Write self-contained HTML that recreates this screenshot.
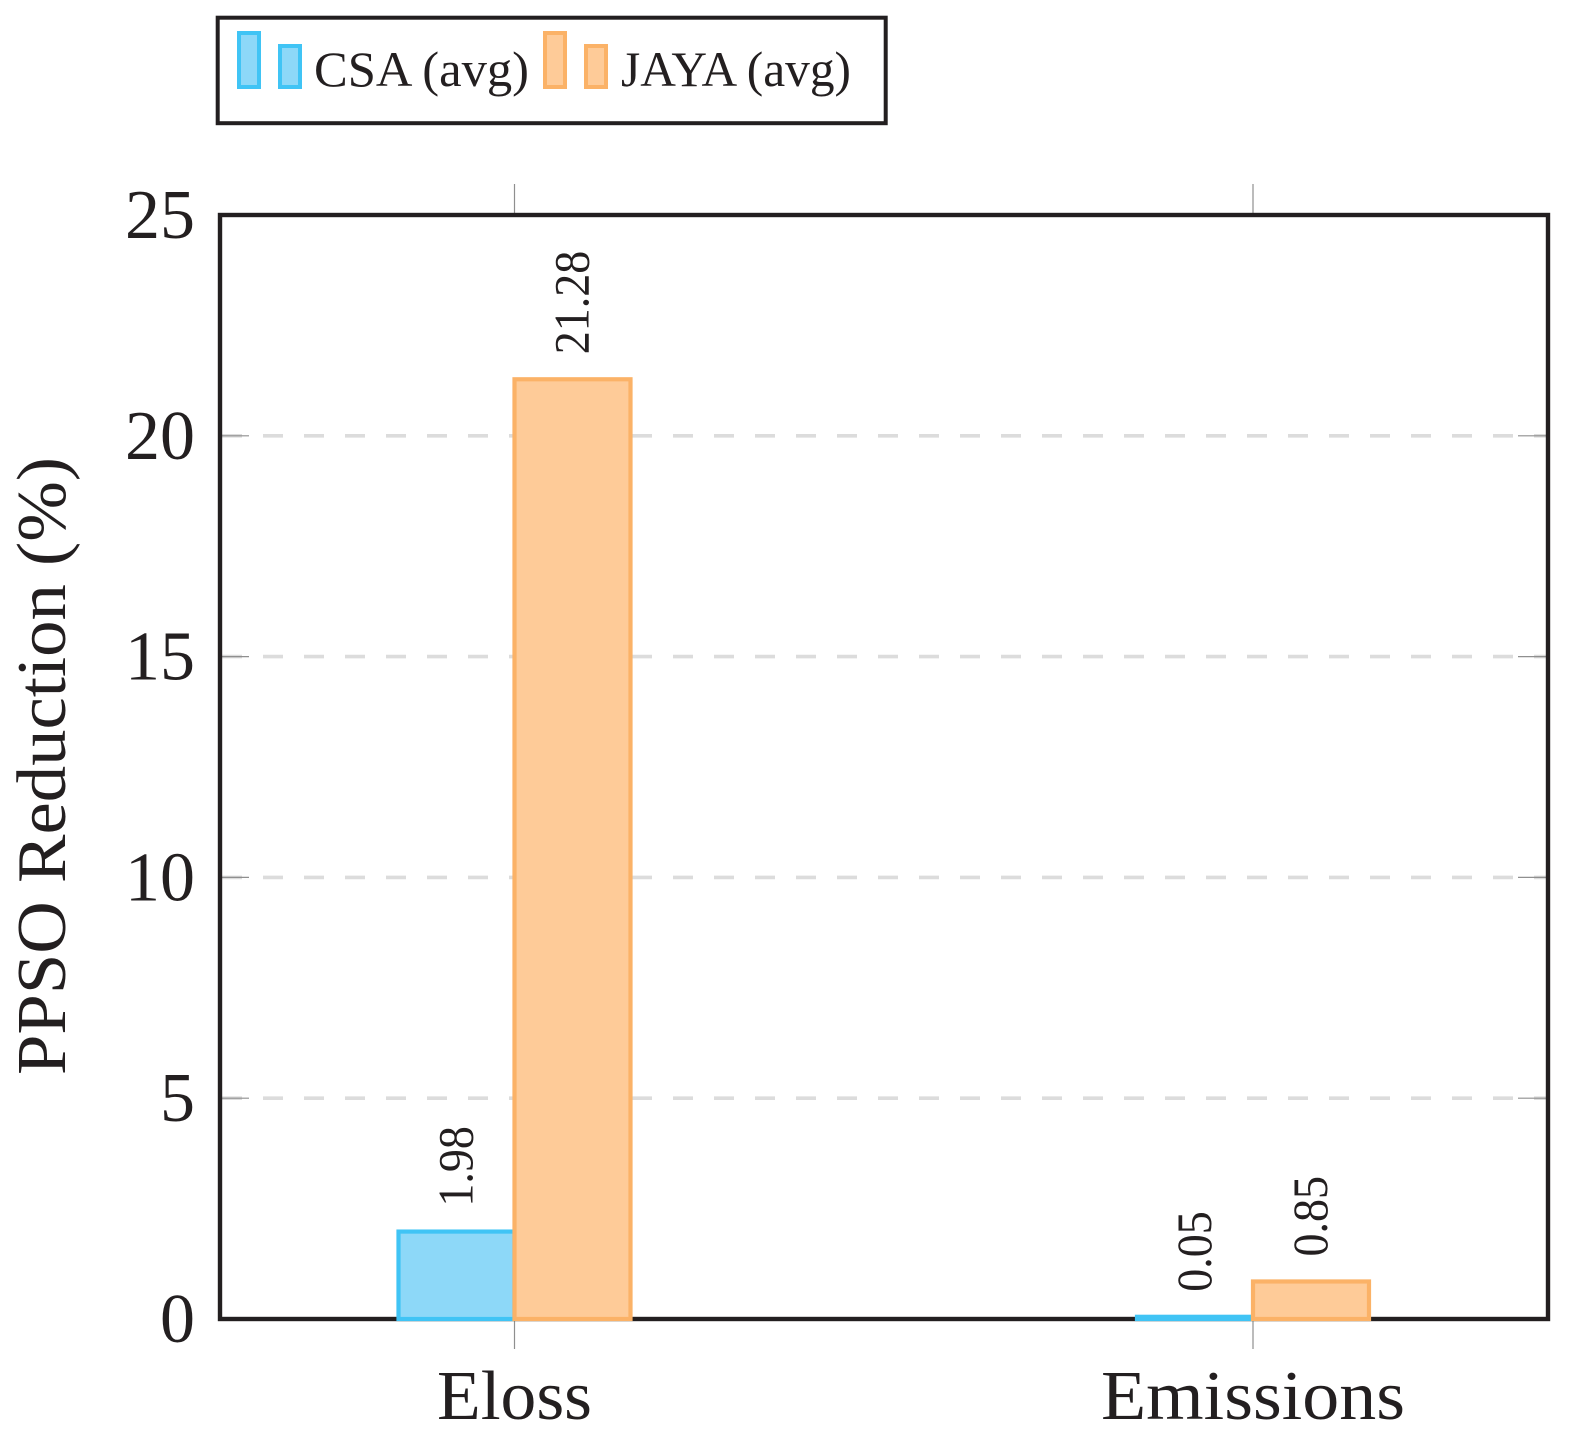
<!DOCTYPE html>
<html lang="en">
<head>
<meta charset="utf-8">
<title>PPSO Reduction Chart</title>
<style>
html,body{margin:0;padding:0;background:#fff;width:1571px;height:1436px;overflow:hidden}
svg{display:block}
text{font-family:"Liberation Serif",serif;fill:#231f20}
</style>
</head>
<body>
<svg id="chart" xmlns="http://www.w3.org/2000/svg" width="1571" height="1436" viewBox="0 0 1571 1436">
  <rect x="0" y="0" width="1571" height="1436" fill="#fff"/>
  <g>
    <rect x="217.7" y="17.7" width="668" height="105.5" fill="#fff" stroke="#231f20" stroke-width="4"/>
    <g>
      <rect x="239" y="33" width="20" height="54" fill="#8dd8f8" stroke="#40c4f5" stroke-width="4"/>
      <rect x="280" y="46" width="20" height="41" fill="#8dd8f8" stroke="#40c4f5" stroke-width="4"/>
      <text x="314" y="86" font-size="50" textLength="215" lengthAdjust="spacingAndGlyphs">CSA (avg)</text>
    </g>
    <g>
      <rect x="545" y="33" width="20" height="54" fill="#fecb98" stroke="#fbb267" stroke-width="4"/>
      <rect x="586" y="46" width="20" height="41" fill="#fecb98" stroke="#fbb267" stroke-width="4"/>
      <text x="621" y="86" font-size="50" textLength="230" lengthAdjust="spacingAndGlyphs">JAYA (avg)</text>
    </g>
  </g>
  <text transform="translate(65,1075) rotate(-90)" x="0" y="0" font-size="70" textLength="618" lengthAdjust="spacingAndGlyphs">PPSO Reduction (%)</text>
  <g id="plot"></g>
</svg>
<script>
const categories = ['Eloss', 'Emissions'];
const csaValues = [1.98, 0.05];
const jayaValues = [21.28, 0.85];
const valueLabelsCsa = ['1.98', '0.05'];
const valueLabelsJaya = ['21.28', '0.85'];
const yTicks = [0, 5, 10, 15, 20, 25];
const yDomain = [0, 25];

const frame = { left: 220, right: 1548, top: 215, bottom: 1319 };
const firstCategoryX = 514.5;
const categoryStep = 738.5;
const barWidth = 116;
const categoryLabelWidths = [155, 304];

const NS = 'http://www.w3.org/2000/svg';
const plot = document.getElementById('plot');

function yScale(v) {
  return frame.bottom - (v - yDomain[0]) / (yDomain[1] - yDomain[0]) * (frame.bottom - frame.top);
}
function xScale(i) {
  return firstCategoryX + i * categoryStep;
}
function make(tag, attrs, parent) {
  const el = document.createElementNS(NS, tag);
  for (const k in attrs) el.setAttribute(k, attrs[k]);
  (parent || plot).appendChild(el);
  return el;
}

// Gridlines
yTicks.forEach(function (t) {
  if (t === yDomain[0] || t === yDomain[1]) return;
  const grid = make('line', { x1: frame.left + 2, x2: frame.right - 2, y1: yScale(t), y2: yScale(t), stroke: '#dcdcdc', 'stroke-width': 3.6, 'stroke-dasharray': '20 21' });
  
  
});

// Y ticks and labels
yTicks.forEach(function (t) {
  if (t !== yDomain[0] && t !== yDomain[1]) {
    const tl = make('line', { x1: frame.left, x2: frame.left + 29, y1: yScale(t), y2: yScale(t), stroke: '#8f8f8f', 'stroke-width': 1.2 });
    
    
    const tr = make('line', { x1: frame.right - 30, x2: frame.right, y1: yScale(t), y2: yScale(t), stroke: '#8f8f8f', 'stroke-width': 1.2 });
    
    
  }
  const label = make('text', { x: 195, y: yScale(t) + 23, 'font-size': 70, 'text-anchor': 'end' });
  label.textContent = String(t);
  
  
});

// X ticks and labels
categories.forEach(function (c, i) {
  const x = xScale(i);
  const top = make('line', { x1: x, x2: x, y1: frame.top - 31, y2: frame.top, stroke: '#8f8f8f', 'stroke-width': 1.2 });
  
  
  const bottom = make('line', { x1: x, x2: x, y1: frame.bottom, y2: frame.bottom + 30, stroke: '#8f8f8f', 'stroke-width': 1.2 });
  
  
  const label = make('text', { x: x, y: 1419, 'font-size': 70, 'text-anchor': 'middle', textLength: categoryLabelWidths[i], lengthAdjust: 'spacingAndGlyphs' });
  label.textContent = c;
  
  
});

// Frame
const axisFrame = make('rect', { x: frame.left, y: frame.top, width: frame.right - frame.left, height: frame.bottom - frame.top, fill: 'none', stroke: '#231f20', 'stroke-width': 4.4 });



// Bars and value labels
function drawSeries(values, labels, offset, fill, stroke, key) {
  values.forEach(function (v, i) {
    const cx = xScale(i) + offset;
    const top = yScale(v);
    const bar = make('rect', { x: cx - barWidth / 2, y: top, width: barWidth, height: yScale(0) - top, fill: fill, stroke: stroke, 'stroke-width': 4.2 });
    
    
    const text = make('text', { 'font-size': 46, transform: 'translate(' + (cx + 16) + ',' + (top - 25) + ') rotate(-90) scale(1,1.09)' });
    text.textContent = labels[i];
    
    
  });
}
drawSeries(csaValues, valueLabelsCsa, -barWidth / 2, '#8dd8f8', '#40c4f5', 'csa');
drawSeries(jayaValues, valueLabelsJaya, barWidth / 2, '#fecb98', '#fbb267', 'jaya');
</script>
</body>
</html>
